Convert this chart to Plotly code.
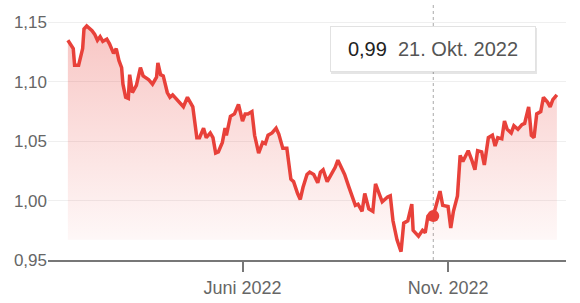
import plotly.graph_objects as go

dates = [
    "2022-01-22", "2022-01-26", "2022-01-27", "2022-01-30", "2022-02-02", "2022-02-03", "2022-02-05",
    "2022-02-09", "2022-02-11", "2022-02-13", "2022-02-15", "2022-02-17", "2022-02-20", "2022-02-22",
    "2022-02-25", "2022-02-27", "2022-03-01", "2022-03-03", "2022-03-04", "2022-03-06", "2022-03-08",
    "2022-03-09", "2022-03-11", "2022-03-13", "2022-03-14", "2022-03-17", "2022-03-19", "2022-03-23",
    "2022-03-26", "2022-03-29", "2022-03-30", "2022-04-01", "2022-04-03", "2022-04-06", "2022-04-08",
    "2022-04-10", "2022-04-13", "2022-04-15", "2022-04-18", "2022-04-21", "2022-04-23", "2022-04-25",
    "2022-04-28", "2022-04-30", "2022-05-03", "2022-05-05", "2022-05-08", "2022-05-10", "2022-05-12",
    "2022-05-14", "2022-05-17", "2022-05-19", "2022-05-20", "2022-05-23", "2022-05-26", "2022-05-29",
    "2022-06-01", "2022-06-03", "2022-06-05", "2022-06-08", "2022-06-10", "2022-06-13", "2022-06-16",
    "2022-06-18", "2022-06-20", "2022-06-23", "2022-06-26", "2022-06-28", "2022-07-01", "2022-07-04",
    "2022-07-07", "2022-07-09", "2022-07-12", "2022-07-14", "2022-07-16", "2022-07-19", "2022-07-21",
    "2022-07-24", "2022-07-27", "2022-07-29", "2022-07-31", "2022-08-03", "2022-08-05", "2022-08-09",
    "2022-08-11", "2022-08-14", "2022-08-16", "2022-08-19", "2022-08-22", "2022-08-24", "2022-08-26",
    "2022-08-29", "2022-08-31", "2022-09-03", "2022-09-06", "2022-09-08", "2022-09-10", "2022-09-13",
    "2022-09-17", "2022-09-19", "2022-09-21", "2022-09-24", "2022-09-27", "2022-09-29", "2022-10-02",
    "2022-10-05", "2022-10-06", "2022-10-10", "2022-10-13", "2022-10-15", "2022-10-17", "2022-10-19",
    "2022-10-21", "2022-10-26", "2022-10-28", "2022-11-01", "2022-11-03", "2022-11-05", "2022-11-08",
    "2022-11-10", "2022-11-12", "2022-11-16", "2022-11-19", "2022-11-21", "2022-11-23", "2022-11-26",
    "2022-11-28", "2022-12-01", "2022-12-04", "2022-12-06", "2022-12-08", "2022-12-11", "2022-12-13",
    "2022-12-15", "2022-12-18", "2022-12-20", "2022-12-23", "2022-12-26", "2022-12-28", "2022-12-31",
    "2023-01-02", "2023-01-04", "2023-01-06", "2023-01-09", "2023-01-11", "2023-01-14", "2023-01-16",
    "2023-01-18", "2023-01-21",
]
values = [
    1.135, 1.128, 1.114, 1.114, 1.128, 1.1445, 1.147,
    1.143, 1.140, 1.135, 1.138, 1.134, 1.136, 1.132,
    1.124, 1.128, 1.118, 1.112, 1.098, 1.087, 1.086,
    1.106, 1.091, 1.095, 1.097, 1.112, 1.105, 1.102,
    1.098, 1.104, 1.116, 1.106, 1.105, 1.091, 1.087,
    1.089, 1.085, 1.082, 1.079, 1.087, 1.083, 1.079,
    1.053, 1.053, 1.061, 1.053, 1.057, 1.053, 1.040,
    1.041, 1.049, 1.061, 1.055, 1.071, 1.073, 1.081,
    1.067, 1.073, 1.073, 1.075, 1.055, 1.040, 1.049,
    1.048, 1.055, 1.057, 1.061, 1.056, 1.044, 1.044,
    1.018, 1.016, 1.006, 1.001, 1.011, 1.022, 1.024,
    1.022, 1.015, 1.024, 1.026, 1.016, 1.020, 1.028,
    1.034, 1.026, 1.022, 1.012, 1.001, 0.996, 0.997,
    0.991, 1.006, 0.993, 0.991, 1.014, 1.008, 0.999,
    1.003, 1.004, 0.983, 0.967, 0.957, 0.981, 0.983,
    0.997, 0.975, 0.970, 0.975, 0.973, 0.987, 0.989,
    0.987, 1.008, 0.996, 0.995, 0.977, 0.991, 1.004,
    1.038, 1.033, 1.042, 1.033, 1.026, 1.042, 1.041,
    1.030, 1.053, 1.055, 1.046, 1.053, 1.052, 1.067,
    1.060, 1.057, 1.063, 1.060, 1.064, 1.065, 1.079,
    1.055, 1.053, 1.073, 1.075, 1.087, 1.083, 1.079,
    1.085, 1.089,
]

y_ticks = [0.95, 1.00, 1.05, 1.10, 1.15]
x_tick_vals = ["2022-06-01", "2022-11-01"]
x_tick_text = ["Juni 2022", "Nov. 2022"]
fill_base = 0.967
hover_date = "2022-10-21"
hover_value = 0.987
hover_label = "0,99"
hover_date_label = "21. Okt. 2022"

RED = "#e8413a"
FONT = "Liberation Sans, Arial, sans-serif"

fig = go.Figure()
fig.add_trace(go.Scatter(
    x=dates, y=[fill_base] * len(dates), mode="lines",
    line=dict(width=0, color="rgba(0,0,0,0)"), hoverinfo="skip", showlegend=False,
))
fig.add_trace(go.Scatter(
    x=dates, y=values, mode="lines", fill="tonexty",
    line=dict(color=RED, width=3.5),
    fillgradient=dict(
        type="vertical",
        colorscale=[[0, "rgba(232,65,58,0.03)"], [1, "rgba(232,65,58,0.30)"]],
        start=fill_base, stop=1.147,
    ),
    showlegend=False,
))
fig.add_trace(go.Scatter(
    x=[hover_date], y=[hover_value], mode="markers",
    marker=dict(color=RED, size=12), showlegend=False,
))

fig.add_shape(type="line", xref="x", yref="paper", x0=hover_date, x1=hover_date,
              y0=0, y1=1, line=dict(color="#aaaaaa", width=1, dash="3px,3px"), layer="below")

# tooltip shadow and box
TIP_Y = 0.829
fig.add_annotation(xref="x", yref="paper", x=hover_date, y=TIP_Y, yanchor="middle", xanchor="center",
                   text="", showarrow=False, width=206, height=46, bgcolor="rgba(0,0,0,0.10)",
                   borderpad=0, borderwidth=0, xshift=1, yshift=-2)
fig.add_annotation(xref="x", yref="paper", x=hover_date, y=TIP_Y, yanchor="middle", xanchor="center",
                   text=f"<span style='color:#222'>{hover_label}</span>\u00a0\u00a0<span style='color:#555'>{hover_date_label}</span>",
                   showarrow=False, width=204, height=44, bgcolor="white",
                   bordercolor="#e2e2e2", borderwidth=1, borderpad=0,
                   font=dict(size=20, family=FONT))

fig.update_layout(
    width=580, height=303,
    margin=dict(l=48, r=14, t=5, b=35),
    paper_bgcolor="white", plot_bgcolor="white",
    separators=",.",
    font=dict(family=FONT, color="#666666"),
    hovermode=False,
    xaxis=dict(
        range=["2022-01-07 05:00", "2023-01-27 19:00"],
        tickvals=x_tick_vals, ticktext=x_tick_text,
        showgrid=False, showline=True, linecolor="#777777", linewidth=2,
        ticks="outside", ticklen=10, tickwidth=2, tickcolor="#777777",
        tickfont=dict(size=18, color="#666666"), zeroline=False,
    ),
    yaxis=dict(
        range=[0.95, 1.1647],
        tickvals=y_ticks, tickformat=".2f",
        showgrid=True, gridcolor="#efefef", gridwidth=1,
        showline=False, zeroline=False, ticks="",
        tickfont=dict(size=17, color="#666666"),
    ),
)

fig.write_html("out.html")
